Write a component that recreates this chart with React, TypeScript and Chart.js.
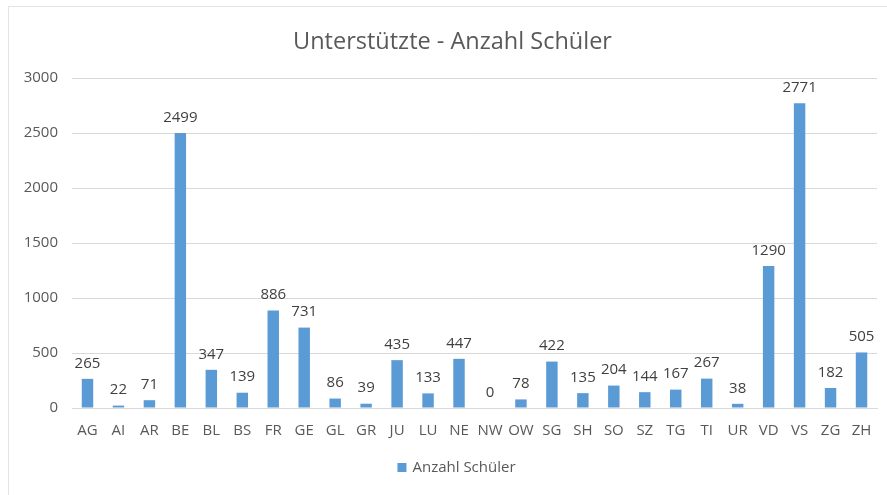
import React, { useEffect, useRef } from "react";
import { Chart, registerables } from "chart.js";

Chart.register(...registerables);

const categories = ["AG","AI","AR","BE","BL","BS","FR","GE","GL","GR","JU","LU","NE","NW","OW","SG","SH","SO","SZ","TG","TI","UR","VD","VS","ZG","ZH"];
const values = [265,22,71,2499,347,139,886,731,86,39,435,133,447,0,78,422,135,204,144,167,267,38,1290,2771,182,505];
const yTicks = [0,500,1000,1500,2000,2500,3000];
const seriesName = "Anzahl Schüler";
const titleText = "Unterstützte - Anzahl Schüler";

const FONT = "'Open Sans', 'Noto Sans', sans-serif";
const BAR_COLOR = "#5B9BD5";

const framePlugin = {
  id: "frame",
  beforeDraw(chart: any) {
    const ctx = chart.ctx;
    ctx.save();
    ctx.fillStyle = "#ffffff";
    ctx.fillRect(0, 0, chart.width, chart.height);
    ctx.strokeStyle = "#E3E3E3";
    ctx.lineWidth = 1;
    ctx.beginPath();
    ctx.moveTo(8.5, chart.height);
    ctx.lineTo(8.5, 6.5);
    ctx.lineTo(chart.width, 6.5);
    ctx.stroke();
    ctx.restore();
  },
};

const titleLegendPlugin = {
  id: "titleLegend",
  afterDraw(chart: any) {
    const ctx = chart.ctx;
    const cx = (chart.chartArea.left + chart.chartArea.right) / 2 - 22;
    ctx.save();
    ctx.fillStyle = "#595959";
    ctx.textAlign = "center";
    ctx.textBaseline = "middle";
    ctx.font = `23.5px ${FONT}`;
    ctx.fillText(titleText, cx, 42);
    // legend
    ctx.font = `15px ${FONT}`;
    const tw = ctx.measureText(seriesName).width;
    const total = 9 + 6 + tw;
    const lx = cx + 4 - total / 2;
    ctx.fillStyle = BAR_COLOR;
    ctx.fillRect(lx, 463, 9, 9);
    ctx.fillStyle = "#595959";
    ctx.textAlign = "left";
    ctx.fillText(seriesName, lx + 15, 468);
    ctx.restore();
  },
};

const labelPlugin = {
  id: "barLabels",
  afterDatasetsDraw(chart: any) {
    const ctx = chart.ctx;
    const meta = chart.getDatasetMeta(0);
    const data = chart.data.datasets[0].data;
    ctx.save();
    ctx.font = `15px ${FONT}`;
    ctx.fillStyle = "#404040";
    ctx.textAlign = "center";
    ctx.textBaseline = "bottom";
    meta.data.forEach((el: any, i: number) => {
      ctx.fillText(String(data[i]), el.x, el.y - 8);
    });
    ctx.restore();
  },
};

export default function App() {
  const ref = useRef<HTMLCanvasElement>(null);
  useEffect(() => {
    const chart = new Chart(ref.current!, {
      type: "bar",
      data: {
        labels: categories,
        datasets: [
          {
            label: seriesName,
            data: values,
            backgroundColor: BAR_COLOR,
            borderWidth: 0,
            categoryPercentage: 1,
            barPercentage: 0.37,
          },
        ],
      },
      options: {
        animation: false,
        responsive: false,
        layout: { padding: { left: 8, right: 10, top: 78, bottom: 44 } },
        plugins: {
          title: { display: false },
          legend: { display: false },
          tooltip: { enabled: false },
        },
        scales: {
          x: {
            grid: { display: false, drawTicks: false },
            border: { display: true, color: "#D9D9D9" },
            ticks: {
              color: "#595959",
              font: { family: FONT, size: 15 },
              padding: 14,
              maxRotation: 0,
              autoSkip: false,
            },
            afterFit(s: any) { s.height = 43; },
          },
          y: {
            min: 0,
            max: 3000,
            afterBuildTicks(s: any) { s.ticks = yTicks.map((v) => ({ value: v })); },
            grid: { color: "#D9D9D9", drawTicks: false },
            border: { display: false },
            ticks: {
              color: "#595959",
              font: { family: FONT, size: 15 },
              padding: 14,
              callback: (v: any) => String(v),
            },
            afterFit(s: any) { s.width = 64; },
          },
        },
      },
      plugins: [framePlugin, labelPlugin, titleLegendPlugin],
    });
    return () => chart.destroy();
  }, []);
  return (
    <div style={{ position: "fixed", left: 0, top: 0, width: 887, height: 495 }}>
      <canvas ref={ref} width={887} height={495} style={{ width: 887, height: 495 }} />
    </div>
  );
}
